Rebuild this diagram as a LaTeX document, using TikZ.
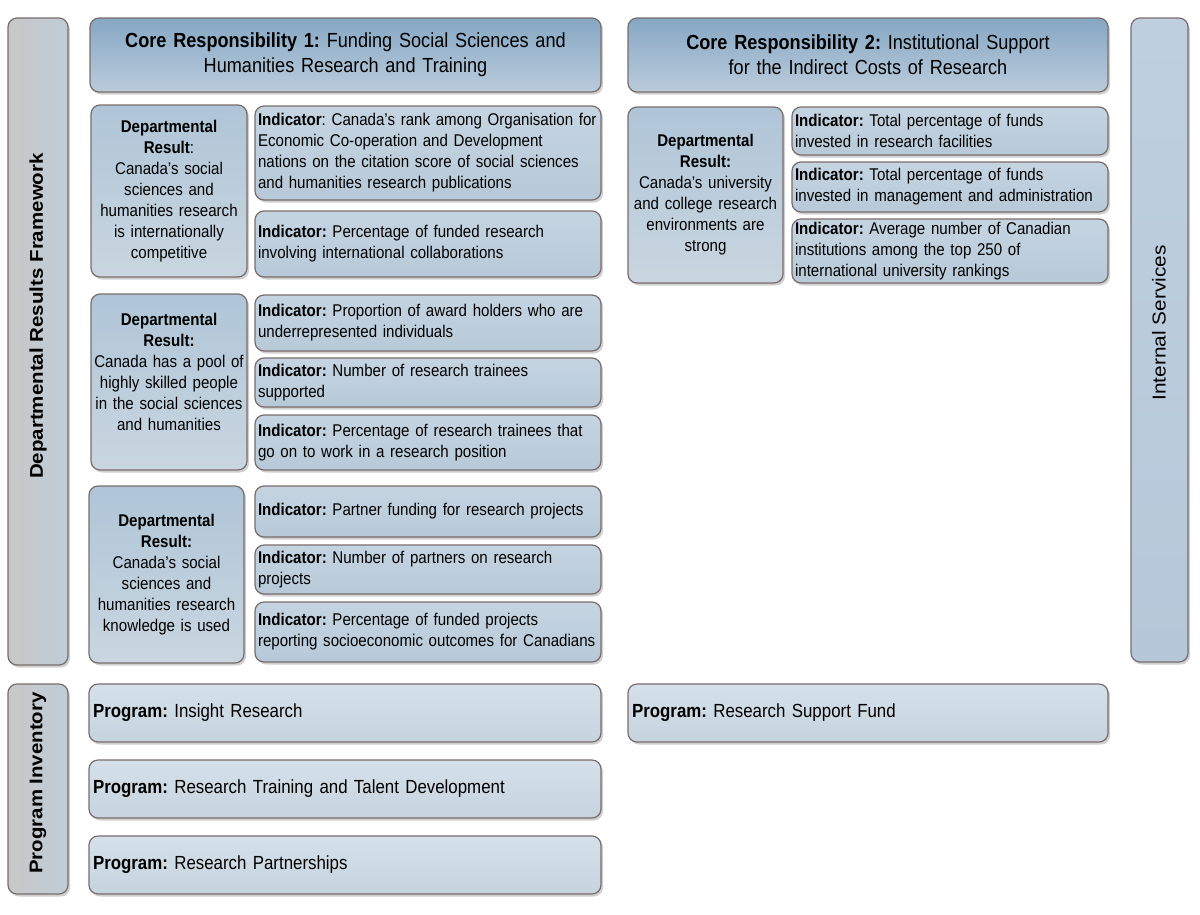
\documentclass[tikz,border=0pt]{standalone}
\usepackage{fontspec}
\setmainfont{Liberation Sans}[FakeStretch=0.888]
\newfontfamily\rotfont{Liberation Sans}
\usetikzlibrary{shadows}
\definecolor{bordc}{HTML}{7A6C6A}
\definecolor{crtop}{HTML}{86A7C4}
\definecolor{crbot}{HTML}{BACCDB}
\definecolor{drtop}{HTML}{AFC5D7}
\definecolor{drbot}{HTML}{C9D6E0}
\definecolor{indtop}{HTML}{C5D4E1}
\definecolor{indbot}{HTML}{B7C9D8}
\definecolor{progtop}{HTML}{D5E0E9}
\definecolor{progbot}{HTML}{C6D4DF}
\definecolor{fwleft}{HTML}{C8C8C8}
\definecolor{fwright}{HTML}{BFCCD7}
\definecolor{istop}{HTML}{BED0DF}
\definecolor{isbot}{HTML}{B5C8D9}
\tikzset{
  base/.style={draw=bordc, line width=1.2pt, rounded corners=9pt,
    drop shadow={shadow xshift=2pt, shadow yshift=-2.5pt, opacity=0.3, fill=black!60},
    inner ysep=0pt, outer sep=0pt, font=\fontsize{17}{21}\selectfont},
  crbox/.style={base, top color=crtop, bottom color=crbot, align=center, font=\fontsize{20.4}{25}\selectfont},
  drbox/.style={base, top color=drtop, bottom color=drbot, align=center},
  indbox/.style={base, top color=indtop, bottom color=indbot, align=left},
  progbox/.style={base, top color=progtop, bottom color=progbot, align=left, font=\fontsize{19}{23}\selectfont},
  fwbox/.style={base, left color=fwleft, right color=fwright},
  isbox/.style={base, top color=istop, bottom color=isbot},
  rotlabel/.style={rotate=90, inner sep=0pt},
}
\newcommand\bx[8]{%
  \pgfmathsetmacro\bw{#5-#3}\pgfmathsetmacro\bh{#6-#4}\pgfmathsetmacro\tw{#5-#3-2*#7}%
  \node[#2, anchor=north west, minimum width=\bw pt, minimum height=\bh pt,
        text width=\tw pt, inner xsep=#7pt] (#1) at (#3,#4) {#8};}
\begin{document}
\frenchspacing
\hyphenpenalty=10000
\begin{tikzpicture}[x=1pt,y=-1pt]
\fill[white] (0,0) rectangle (1200,914);
\useasboundingbox (0,0) rectangle (1200,914);

% side bars
\bx{fw}{fwbox}{8}{18}{68}{665}{3}{}
\node[rotlabel] (fwl) at (38,316) {\rotfont\bfseries\fontsize{20.5}{24}\selectfont\scalebox{1}[0.9]{Departmental Results Framework}};
\bx{pi}{fwbox}{8}{684}{68}{894}{3}{}
\node[rotlabel] (pil) at (38,783) {\rotfont\bfseries\fontsize{20.4}{24}\selectfont\scalebox{1}[0.9]{Program Inventory}};
\bx{is}{isbox}{1131}{18}{1188}{662}{3}{}
\node[rotlabel] (isl) at (1159,323) {\rotfont\fontsize{20.8}{24}\selectfont\scalebox{1}[0.9]{Internal Services}};

% core responsibilities
\bx{cr1}{crbox}{90}{18}{601}{92}{4}{\textbf{Core Responsibility 1:} Funding Social Sciences and\\ Humanities Research and Training}
\bx{cr2}{crbox}{628}{18}{1108}{92}{4}{\textbf{Core Responsibility 2:} Institutional Support\\ for the Indirect Costs of Research}

% CR1 results
\bx{dr1}{drbox}{91}{105}{247}{277}{2}{\textbf{Departmental}\\ \textbf{Result}:\\ Canada’s social\\ sciences and\\ humanities research\\ is internationally\\ competitive}
\bx{i1a}{indbox}{255}{106}{601}{200}{3}{\textbf{Indicator}: Canada’s rank among Organisation for\\ Economic Co-operation and Development\\ nations on the citation score of social sciences\\ and humanities research publications}
\bx{i1b}{indbox}{255}{211}{601}{277}{3}{\textbf{Indicator:} Percentage of funded research\\ involving international collaborations}

\bx{dr2}{drbox}{91}{294}{247}{470}{1}{\textbf{Departmental}\\ \textbf{Result:}\\ Canada has a pool of\\ highly skilled people\\ in the social sciences\\ and humanities\\ \mbox{}}
\bx{i2a}{indbox}{255}{295}{601}{351}{3}{\textbf{Indicator:} Proportion of award holders who are\\ underrepresented individuals}
\bx{i2b}{indbox}{255}{358}{601}{407}{3}{\textbf{Indicator:} Number of research trainees\\ supported}
\bx{i2c}{indbox}{255}{415}{601}{470}{3}{\textbf{Indicator:} Percentage of research trainees that\\ go on to work in a research position}

\bx{dr3}{drbox}{89}{486}{244}{663}{2}{\textbf{Departmental}\\ \textbf{Result:}\\ Canada’s social\\ sciences and\\ humanities research\\ knowledge is used}
\bx{i3a}{indbox}{255}{486}{601}{537}{3}{\textbf{Indicator:} Partner funding for research projects}
\bx{i3b}{indbox}{255}{545}{601}{594}{3}{\textbf{Indicator:} Number of partners on research\\ projects}
\bx{i3c}{indbox}{255}{602}{601}{662}{3}{\textbf{Indicator:} Percentage of funded projects\\ reporting socioeconomic outcomes for Canadians}

% CR2 results
\bx{dr4}{drbox}{628}{107}{783}{283}{2}{\textbf{Departmental}\\ \textbf{Result:}\\ Canada's university\\ and college research\\ environments are\\ strong}
\bx{i4a}{indbox}{792}{107}{1108}{155}{3}{\textbf{Indicator:} Total percentage of funds\\ invested in research facilities}
\bx{i4b}{indbox}{792}{162}{1108}{212}{3}{\textbf{Indicator:} Total percentage of funds\\ invested in management and administration}
\bx{i4c}{indbox}{792}{219}{1108}{283}{3}{\textbf{Indicator:} Average number of Canadian\\ institutions among the top 250 of\\ international university rankings}

% programs
\bx{p1}{progbox}{89}{684}{601}{742}{4}{\textbf{Program:} Insight Research}
\bx{p2}{progbox}{89}{760}{601}{818}{4}{\textbf{Program:} Research Training and Talent Development}
\bx{p3}{progbox}{89}{836}{601}{894}{4}{\textbf{Program:} Research Partnerships}
\bx{p4}{progbox}{628}{684}{1108}{742}{4}{\textbf{Program:} Research Support Fund}
\end{tikzpicture}
\end{document}
